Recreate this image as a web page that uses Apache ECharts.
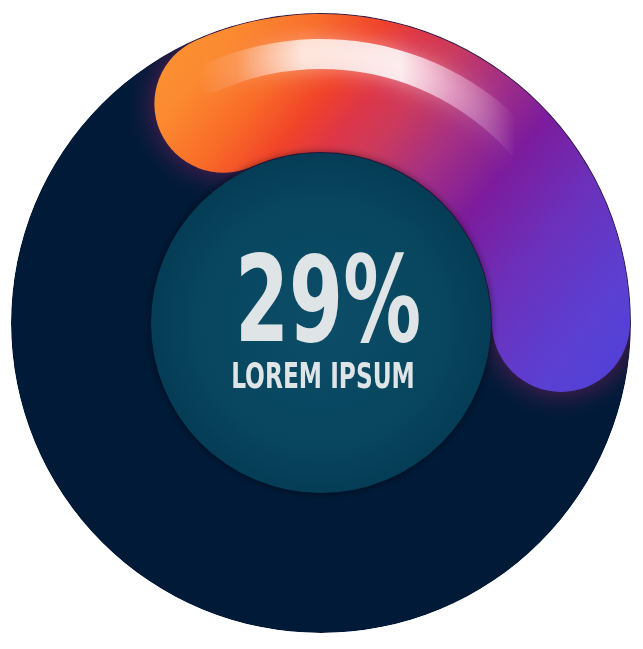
<!DOCTYPE html>
<html>
<head>
<meta charset="utf-8">
<script src="https://cdn.jsdelivr.net/npm/echarts@6/dist/echarts.min.js"></script>
<style>html,body{margin:0;padding:0;background:#fff;}#c{width:643px;height:649px;}</style>
</head>
<body>
<div id="c"></div>
<script>
// ---- data ----
const percentValues = [29];
const valueRange = [0, 91.6];   // full turn of the dial, as drawn in the picture
const centerLabels = ['LOREM IPSUM'];

// ---- layout ----
const CX = 321, CY = 323;
const R_OUT = 310, R_IN = 170;

const chart = echarts.init(document.getElementById('c'), null, {renderer: 'canvas'});

const arcGradient = new echarts.graphic.LinearGradient(0, 0, 1, 1, [
  {offset: 0.00, color: '#fd9535'},
  {offset: 0.12, color: '#fb8a30'},
  {offset: 0.22, color: '#f86a28'},
  {offset: 0.30, color: '#f0422a'},
  {offset: 0.36, color: '#dd3648'},
  {offset: 0.42, color: '#cc3a5c'},
  {offset: 0.51, color: '#a53084'},
  {offset: 0.61, color: '#7c1c9c'},
  {offset: 0.74, color: '#6a32bc'},
  {offset: 0.88, color: '#5a40d2'},
  {offset: 1.00, color: '#5040d8'}
]);
const glossGradient = new echarts.graphic.LinearGradient(0, 0, 1, 0, [
  {offset: 0.00, color: 'rgba(255,255,255,0)'},
  {offset: 0.10, color: 'rgba(255,255,255,0.15)'},
  {offset: 0.26, color: 'rgba(255,255,255,0.75)'},
  {offset: 0.50, color: 'rgba(255,255,255,0.85)'},
  {offset: 0.64, color: 'rgba(255,225,255,0.4)'},
  {offset: 0.78, color: 'rgba(255,255,255,0)'},
  {offset: 1.00, color: 'rgba(255,255,255,0)'}
]);

const hidden = {
  axisLine: {show: false}, axisTick: {show: false}, splitLine: {show: false},
  axisLabel: {show: false}, pointer: {show: false}, anchor: {show: false},
  title: {show: false}, detail: {show: false}
};

function gaugeSeries(radius, width, color, extra, z) {
  return Object.assign({
    type: 'gauge', center: [CX, CY], radius: radius, z: z,
    startAngle: 114, endAngle: -246,
    min: valueRange[0], max: valueRange[1],
    silent: true, animation: false,
    progress: {show: true, width: width, roundCap: true, itemStyle: Object.assign({color: color}, extra)},
    data: percentValues.map(v => ({value: v}))
  }, hidden);
}

const option = {
  backgroundColor: '#ffffff',
  series: [
    {type: 'pie', center: [CX, CY], radius: [0, R_OUT], z: 1, silent: true, animation: false,
     label: {show: false}, labelLine: {show: false},
     itemStyle: {color: '#001a38'}, data: [{value: 1}]},
    gaugeSeries(R_OUT - 1, 138, arcGradient, {shadowBlur: 30, shadowColor: 'rgba(110,30,90,0.9)'}, 2),
    gaugeSeries(284, 30, glossGradient, {shadowBlur: 22, shadowColor: 'rgba(255,255,255,0.55)'}, 3),
    {type: 'pie', center: [CX, CY], radius: [0, R_IN], z: 4, silent: true, animation: false,
     label: {show: false}, labelLine: {show: false},
     itemStyle: {
       color: new echarts.graphic.RadialGradient(0.5, 0.5, 0.5, [
         {offset: 0, color: '#0c4d67'}, {offset: 0.7, color: '#08465f'}, {offset: 1, color: '#053c56'}
       ]),
       shadowBlur: 8, shadowColor: 'rgba(0,0,0,0.55)'
     },
     data: [{value: 1}]},
    {type: 'pie', center: [CX, CY], radius: [R_OUT, 800], z: 5, silent: true, animation: false,
     label: {show: false}, labelLine: {show: false},
     itemStyle: {color: '#ffffff'}, data: [{value: 1}]}
  ],
  graphic: [
    {type: 'text', x: CX + 7, y: CY - 13, z: 10, scaleX: 0.72,
     style: {text: percentValues[0] + '%', fill: '#dfe4e6', textAlign: 'center', textVerticalAlign: 'middle',
             font: 'bold 120px "Liberation Sans Narrow", "DejaVu Sans Condensed", sans-serif'}},
    {type: 'text', x: CX + 2, y: CY + 56, z: 10, scaleX: 0.72,
     style: {text: centerLabels[0], fill: '#dfe4e6', textAlign: 'center', textVerticalAlign: 'middle',
             font: 'bold 36px "Liberation Sans Narrow", "DejaVu Sans Condensed", sans-serif'}}
  ]
};
chart.setOption(option);
</script>
</body>
</html>
